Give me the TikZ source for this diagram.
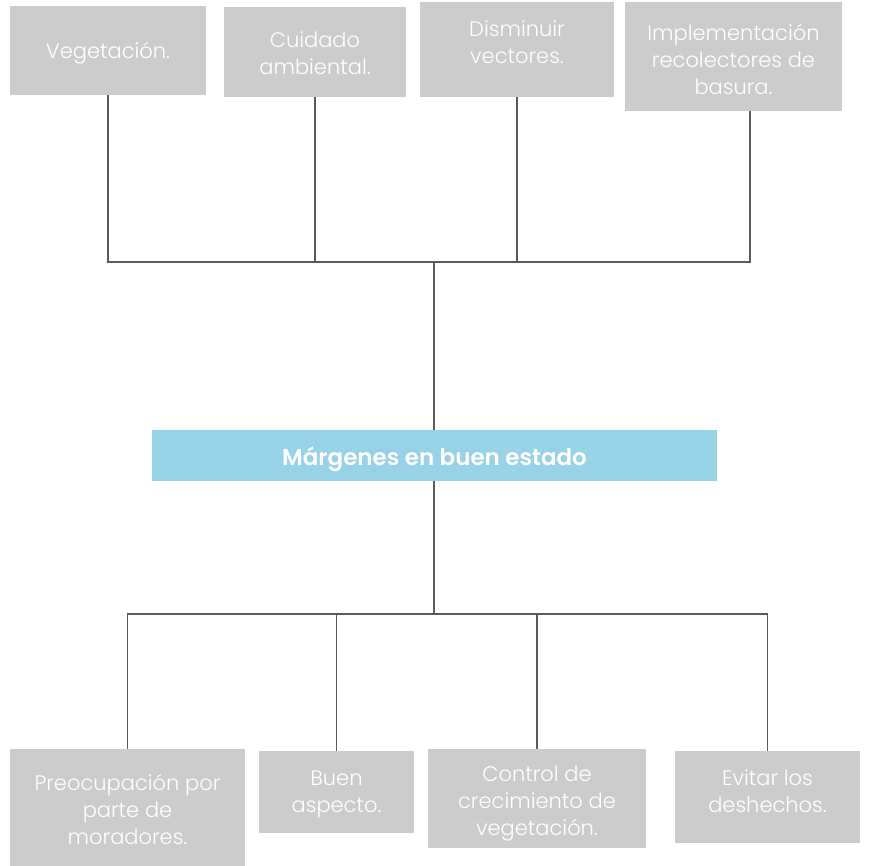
\documentclass[tikz,border=0pt]{standalone}
\usepackage{fontspec}
\setmainfont{Poppins Light}[BoldFont=Poppins SemiBold]
\definecolor{boxgray}{HTML}{CCCCCC}
\definecolor{boxblue}{HTML}{97D2E6}
\definecolor{linegray}{HTML}{5A5A5A}
\begin{document}
\begin{tikzpicture}[x=1pt, y=-1pt,
    every node/.style={rectangle, inner sep=0pt, align=center, text=white, font=\fontsize{21}{27}\selectfont},
    leaf/.style={fill=boxgray},
    root/.style={fill=boxblue},
    title/.style={font=\fontsize{23}{26}\selectfont\bfseries},
    link/.style={draw=linegray, line width=1.8pt}]
    \useasboundingbox (0,0) rectangle (870,866);
    % causas
    \node (veg) [leaf, minimum width=196pt, minimum height=89pt, label={[yshift=-3pt]center:Vegetación.}] at (108,50.5) {};
    \node (cuid) [leaf, minimum width=182pt, minimum height=90pt, label={[yshift=-1pt]center:Cuidado\\ambiental.}] at (315,52) {};
    \node (dism) [leaf, minimum width=194pt, minimum height=95pt, label={[yshift=7pt]center:Disminuir\\vectores.}] at (517,49.5) {};
    \node (impl) [leaf, minimum width=217pt, minimum height=109pt, label={[yshift=-3pt]center:Implementación\\recolectores de\\basura.}] at (733.5,56.5) {};
    % centro
    \node (mid) [root, minimum width=565pt, minimum height=51pt, label={[title, yshift=-4pt]center:Márgenes en buen estado}] at (434.5,455.5) {};
    % efectos
    \node (preoc) [leaf, minimum width=235pt, minimum height=117pt, label={[yshift=-2pt]center:Preocupación por\\parte de\\moradores.}] at (127.5,807.5) {};
    \node (buen) [leaf, minimum width=155pt, minimum height=82pt, label={[yshift=-2pt]center:Buen\\aspecto.}] at (336.5,792) {};
    \node (ctrl) [leaf, minimum width=218pt, minimum height=99pt, label={[yshift=-5pt]center:Control de\\crecimiento de\\vegetación.}] at (537,798.5) {};
    \node (evit) [leaf, minimum width=185pt, minimum height=92pt, label={[yshift=6pt]center:Evitar los\\deshechos.}] at (767.5,797) {};
    \coordinate (topbus) at (434,262);
    \coordinate (botbus) at (434,614);
    \draw[link] (veg.south) |- (topbus);
    \draw[link] ([xshift=16.5pt]impl.south) |- (topbus);
    \draw[link] (cuid.south) -- (cuid.south |- topbus);
    \draw[link] (dism.south) -- (dism.south |- topbus);
    \draw[link] (topbus) -- (mid.north -| topbus);
    \draw[link] (mid.south -| botbus) -- (botbus);
    \draw[link] (botbus) -| (preoc.north);
    \draw[link] (botbus) -| (buen.north);
    \draw[link] (botbus) -| (ctrl.north);
    \draw[link] (botbus) -| (evit.north);
\end{tikzpicture}
\end{document}
